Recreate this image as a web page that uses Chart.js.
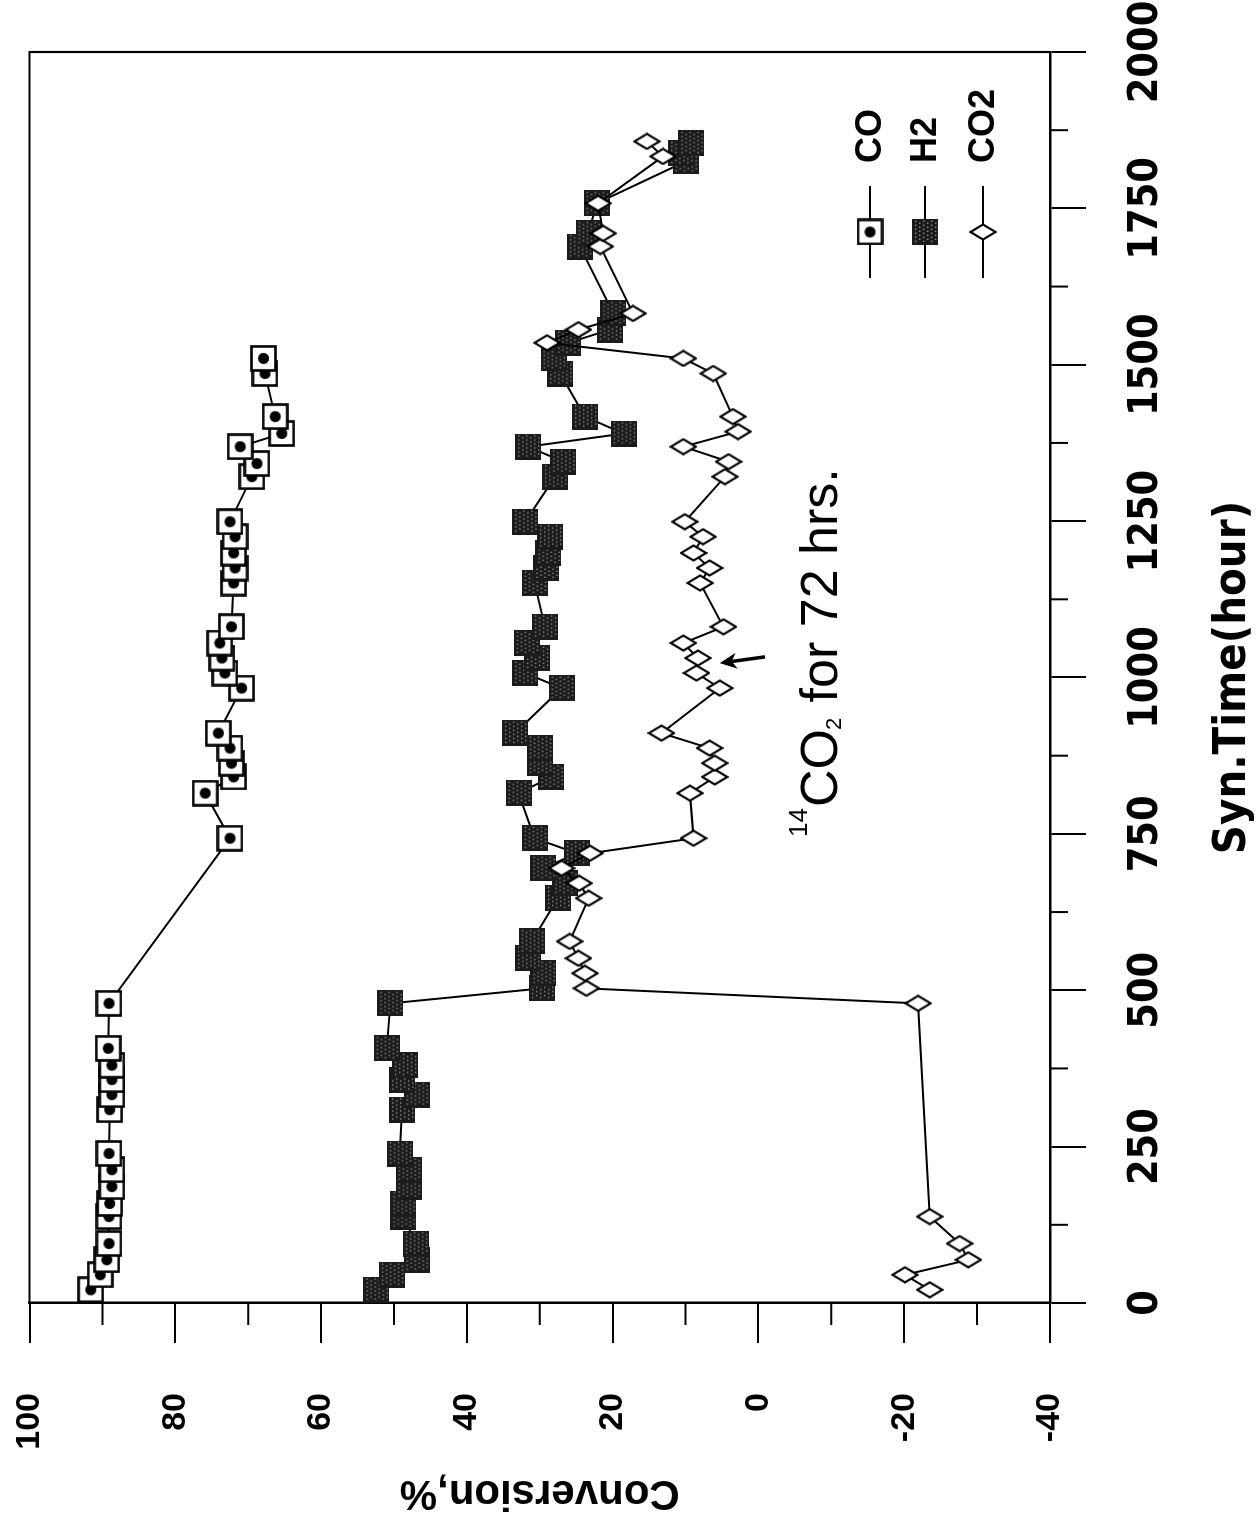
<!DOCTYPE html>
<html>
<head>
<meta charset="utf-8">
<title>Conversion vs Syn.Time</title>
<script src="https://cdn.jsdelivr.net/npm/chart.js@4.4.1/dist/chart.umd.min.js"></script>
<style>
  html, body { margin: 0; padding: 0; background: #fff; overflow: hidden; }
  body { width: 1258px; height: 1518px; position: relative; }
  /* the figure is a normal chart turned a quarter turn counter-clockwise */
  #wrap {
    position: absolute; left: -130px; top: 130px;
    width: 1518px; height: 1258px;
    transform: rotate(-90deg); transform-origin: 50% 50%;
  }
</style>
</head>
<body>
<div id="wrap"><canvas id="chart" width="1518" height="1258"></canvas></div>
<script>
'use strict';

/* ---------- data ---------- */
const coTime = [21, 45, 69, 95, 138, 159, 186, 213, 239, 309, 333, 357, 380, 407, 479,
    743, 815, 841, 863, 887, 911, 983, 1007, 1031, 1055, 1081, 1151, 1175, 1199, 1225, 1249,
    1321, 1342, 1369, 1390, 1417, 1486, 1510];
const coConv = [91.6, 90.3, 89.4, 89.1, 89.1, 89.0, 88.7, 88.7, 89.1, 89.0, 88.7, 88.7, 88.7, 89.2, 89.1,
    72.5, 75.9, 72.0, 72.3, 72.5, 74.1, 70.9, 73.2, 73.6, 73.9, 72.3, 72.0, 71.8, 72.0, 71.8, 72.5,
    69.5, 68.8, 71.1, 65.4, 66.3, 67.7, 67.9];

const h2Time = [21, 45, 69, 95, 138, 159, 186, 213, 239, 309, 333, 357, 380, 407, 479,
    503, 527, 551, 578, 647, 671, 695, 719, 743, 815, 841, 863, 887, 911, 983,
    1007, 1031, 1055, 1081, 1151, 1175, 1199, 1225, 1249, 1321, 1345, 1369, 1390, 1417,
    1486, 1510, 1535, 1556, 1582, 1689, 1710, 1758, 1825, 1838, 1854];
const h2Conv = [52.4, 50.3, 46.9, 47.0, 48.7, 48.7, 48.0, 48.0, 49.2, 48.9, 46.9, 48.9, 48.5, 51.0, 50.5,
    29.7, 29.5, 31.6, 31.1, 27.5, 26.5, 29.5, 24.9, 30.7, 32.9, 28.4, 30.0, 30.0, 33.4, 27.0,
    32.0, 30.4, 31.8, 29.3, 30.7, 29.1, 28.8, 28.6, 32.0, 27.9, 26.8, 31.6, 18.5, 23.8,
    27.2, 28.1, 26.1, 20.4, 19.9, 24.5, 23.3, 22.2, 10.0, 10.6, 9.2];

const co2Time = [21, 45, 69, 95, 138, 479, 503, 527, 551, 578, 647, 671, 695, 719, 743,
    815, 841, 863, 887, 911, 983, 1007, 1031, 1055, 1081, 1151, 1175, 1199, 1225, 1249,
    1321, 1345, 1369, 1393, 1417, 1486, 1510, 1535, 1556, 1582, 1689, 1710, 1758, 1833, 1857];
const co2Conv = [-23.5, -20.1, -28.8, -27.6, -23.5, -21.9, 23.6, 23.8, 24.7, 25.9, 23.3, 24.6, 27.0, 23.1, 8.9,
    9.4, 6.0, 6.0, 6.7, 13.3, 5.3, 8.5, 8.3, 10.3, 4.8, 8.0, 6.7, 8.9, 7.6, 10.1,
    4.6, 4.1, 10.3, 2.8, 3.5, 6.2, 10.3, 29.0, 24.7, 17.2, 21.7, 21.3, 22.0, 13.1, 15.3];

const seriesNames = ['CO', 'H2', 'CO2'];

/* axis ticks */
const timeMinorTicks = [125, 375, 625, 875, 1125, 1375, 1625, 1875];
const convMinorTicks = [90, 70, 50, 30, 10, -10, -30];

/* note on the plot: [time, conversion] */
const noteAt = [745, -10.8];
const arrowTail = [1033, -0.9];
const arrowHead = [1023, 5.3];

/* ---------- fonts ---------- */
const SANS = '"Liberation Sans", Arial, Helvetica, sans-serif';
const NARROW = '"Liberation Sans Narrow", "Arial Narrow", "DejaVu Sans Condensed", "Liberation Sans", sans-serif';

/* ---------- point markers ---------- */
function makeCanvas(w, h) {
    const c = document.createElement('canvas');
    c.width = w; c.height = h;
    return c;
}

// open square with a dot
const coMark = (function () {
    const c = makeCanvas(27, 27), g = c.getContext('2d');
    g.fillStyle = '#fff'; g.fillRect(1.5, 1.5, 24, 24);
    g.strokeStyle = '#000'; g.lineWidth = 2.6; g.strokeRect(1.5, 1.5, 24, 24);
    g.beginPath(); g.arc(13.5, 13.5, 5.5, 0, Math.PI * 2); g.fillStyle = '#000'; g.fill();
    return c;
})();

// dark stippled square
const h2Mark = (function () {
    const c = makeCanvas(26, 26), g = c.getContext('2d');
    g.fillStyle = '#1b1b1b'; g.fillRect(0, 0, 26, 26);
    g.fillStyle = '#8c8c8c';
    for (let y = 3; y < 24; y += 4) {
        for (let x = (y % 8 === 3 ? 3 : 5); x < 24; x += 4) g.fillRect(x, y, 1.4, 1.4);
    }
    return c;
})();

// open diamond (taller than wide before the page rotation)
const co2Mark = (function () {
    const c = makeCanvas(18, 28), g = c.getContext('2d');
    g.beginPath();
    g.moveTo(9, 1.5); g.lineTo(16.5, 14); g.lineTo(9, 26.5); g.lineTo(1.5, 14); g.closePath();
    g.fillStyle = '#fff'; g.fill();
    g.strokeStyle = '#000'; g.lineWidth = 2.2; g.stroke();
    return c;
})();

const markers = [coMark, h2Mark, co2Mark];

function toPoints(xs, ys) {
    return xs.map((t, i) => ({ x: t, y: ys[i] }));
}

/* ---------- plugins ---------- */
// top and right edges of the box
const framePlugin = {
    id: 'frame',
    beforeDatasetsDraw(chart) {
        const { ctx, chartArea: a } = chart;
        ctx.save();
        ctx.strokeStyle = '#000'; ctx.lineWidth = 2.2;
        ctx.beginPath();
        ctx.moveTo(a.left, a.top); ctx.lineTo(a.right, a.top); ctx.lineTo(a.right, a.bottom);
        ctx.stroke();
        ctx.restore();
    }
};

// short ticks between the labelled ones
const minorTickPlugin = {
    id: 'minorTicks',
    afterDraw(chart) {
        const { ctx, chartArea: a, scales } = chart;
        ctx.save();
        ctx.strokeStyle = '#000'; ctx.lineWidth = 2;
        ctx.beginPath();
        timeMinorTicks.forEach(t => {
            const px = scales.x.getPixelForValue(t);
            ctx.moveTo(px, a.bottom); ctx.lineTo(px, a.bottom + 18);
        });
        convMinorTicks.forEach(v => {
            const py = scales.y.getPixelForValue(v);
            ctx.moveTo(a.left, py); ctx.lineTo(a.left - 22, py);
        });
        ctx.stroke();
        ctx.restore();
    }
};

// legend inside the plot: line, marker, name
const legendPlugin = {
    id: 'boxLegend',
    afterDatasetsDraw(chart) {
        const { ctx, chartArea: a } = chart;
        const cx = a.right - 180;
        const rows = [180, 125, 67];
        ctx.save();
        chart.data.datasets.forEach((ds, i) => {
            const cy = a.bottom - rows[i];
            ctx.strokeStyle = '#000'; ctx.lineWidth = 2;
            ctx.beginPath(); ctx.moveTo(cx - 46, cy); ctx.lineTo(cx + 46, cy); ctx.stroke();
            const m = ds.pointStyle;
            ctx.drawImage(m, cx - m.width / 2, cy - m.height / 2);
            ctx.fillStyle = '#000';
            ctx.font = 'bold 36px ' + SANS;
            ctx.textAlign = 'left'; ctx.textBaseline = 'middle';
            ctx.fillText(ds.label, cx + 69, cy + 1);
        });
        ctx.restore();
    }
};

// "14CO2 for 72 hrs." and its arrow
const notePlugin = {
    id: 'note',
    afterDatasetsDraw(chart) {
        const { ctx, scales: { x, y } } = chart;
        let px = x.getPixelForValue(noteAt[0]);
        const py = y.getPixelForValue(noteAt[1]);
        ctx.save();
        ctx.fillStyle = '#000'; ctx.textAlign = 'left'; ctx.textBaseline = 'alphabetic';
        ctx.font = '26px ' + SANS;
        ctx.fillText('14', px, py - 30);
        px += ctx.measureText('14').width + 1;
        ctx.font = '52px ' + SANS;
        ctx.fillText('CO', px, py);
        px += ctx.measureText('CO').width;
        ctx.font = '22px ' + SANS;
        ctx.fillText('2', px - 1, py + 4);
        px += ctx.measureText('2').width;
        ctx.font = '52px ' + SANS;
        ctx.fillText(' for 72 hrs.', px, py);

        const hx = x.getPixelForValue(arrowHead[0]), hy = y.getPixelForValue(arrowHead[1]);
        const tx = x.getPixelForValue(arrowTail[0]), ty = y.getPixelForValue(arrowTail[1]);
        const ang = Math.atan2(hy - ty, hx - tx);
        ctx.strokeStyle = '#000'; ctx.lineWidth = 3.5;
        ctx.beginPath();
        ctx.moveTo(tx, ty);
        ctx.lineTo(hx - Math.cos(ang) * 10, hy - Math.sin(ang) * 10);
        ctx.stroke();
        ctx.beginPath();
        ctx.moveTo(hx, hy);
        ctx.lineTo(hx - Math.cos(ang) * 17 + Math.sin(ang) * 8, hy - Math.sin(ang) * 17 - Math.cos(ang) * 8);
        ctx.lineTo(hx - Math.cos(ang) * 12, hy - Math.sin(ang) * 12);
        ctx.lineTo(hx - Math.cos(ang) * 17 - Math.sin(ang) * 8, hy - Math.sin(ang) * 17 + Math.cos(ang) * 8);
        ctx.closePath();
        ctx.fill();
        ctx.restore();
    }
};

/* ---------- chart ---------- */
Chart.defaults.color = '#000';

const lineStyle = {
    showLine: true, borderColor: '#000', borderWidth: 2, tension: 0,
    pointRadius: 12, pointHoverRadius: 12
};

const axisLine = { display: true, color: '#000', width: 2.5 };

new Chart(document.getElementById('chart'), {
    type: 'scatter',
    data: {
        datasets: [
            Object.assign({ label: seriesNames[0], data: toPoints(coTime, coConv), pointStyle: markers[0], order: 2 }, lineStyle),
            Object.assign({ label: seriesNames[1], data: toPoints(h2Time, h2Conv), pointStyle: markers[1], order: 1 }, lineStyle),
            Object.assign({ label: seriesNames[2], data: toPoints(co2Time, co2Conv), pointStyle: markers[2], order: 0 }, lineStyle)
        ]
    },
    options: {
        responsive: false,
        animation: false,
        events: [],
        layout: { padding: { top: 29.5, right: 52, left: 0, bottom: 0 } },
        plugins: {
            legend: { display: false },
            tooltip: { enabled: false }
        },
        scales: {
            x: {
                type: 'linear', position: 'bottom',
                min: 0, max: 2000,
                ticks: {
                    stepSize: 250, padding: 36, maxRotation: 0,
                    callback: v => String(v),
                    font: { family: NARROW, size: 41, weight: 'bold' }
                },
                grid: { drawOnChartArea: false, drawTicks: true, tickLength: 36, color: '#000', lineWidth: 2 },
                border: axisLine,
                title: {
                    display: true, text: 'Syn.Time(hour)',
                    font: { family: NARROW, size: 45, weight: 'bold', lineHeight: 1 },
                    padding: { top: 0, bottom: 2 }
                },
                afterFit(scale) {
                    scale.height = 208;
                    scale.paddingLeft = 0; scale.paddingRight = 0;
                }
            },
            y: {
                type: 'linear', position: 'left',
                min: -40, max: 100,
                ticks: {
                    stepSize: 20, padding: 50,
                    font: { family: SANS, size: 34, weight: 'bold' }
                },
                grid: { drawOnChartArea: false, drawTicks: true, tickLength: 40, color: '#000', lineWidth: 2 },
                border: axisLine,
                title: {
                    display: true, text: 'Conversion,%',
                    font: { family: SANS, size: 42, weight: 'bold', lineHeight: 1 },
                    padding: { top: 4, bottom: 0 }
                },
                afterFit(scale) {
                    scale.width = 215;
                    scale.paddingTop = 0; scale.paddingBottom = 0;
                }
            }
        }
    },
    plugins: [framePlugin, minorTickPlugin, legendPlugin, notePlugin]
});
</script>
</body>
</html>
